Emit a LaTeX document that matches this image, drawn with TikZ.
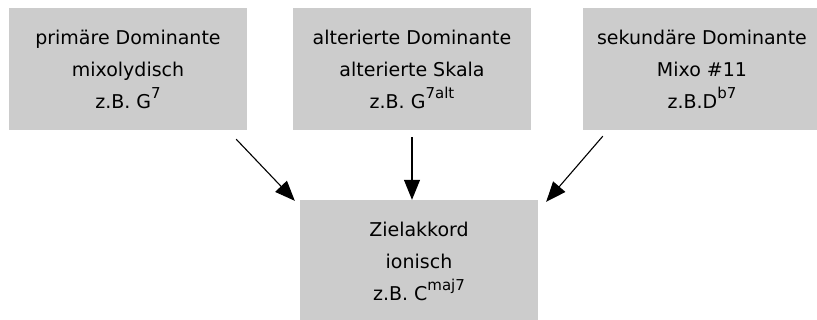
\documentclass[tikz,border=0pt]{standalone}
\usepackage{fontspec}
\setmainfont{DejaVu Sans}
\usepackage{tikz}
\usetikzlibrary{positioning,calc,arrows.meta}
\definecolor{boxgray}{rgb}{0.8, 0.8, 0.8}
\newcommand{\hoch}[1]{\raisebox{0.5em}{\fontsize{15}{15}\selectfont #1}}

\tikzset{
	box/.style={rectangle, fill=boxgray, minimum width=238pt, minimum height=122pt, align=center, inner sep=0pt, font=\fontsize{19}{32}\selectfont},
	pfeil/.style={black, line width=1.1pt, -{Triangle[length=20pt,width=16pt]}}
}

\begin{document}
\begin{tikzpicture}[x=1pt,y=1pt]
	\useasboundingbox (0,0) rectangle (817,-320);
	
	\node[box] (prim) at (128,-69) {primäre Dominante\\mixolydisch\\z.B. G\hoch{7}};
	
	\node[box] (alt) at (412,-69) {alterierte Dominante\\alterierte Skala\\z.B. G\hoch{7alt}};
	
	\node[box] (sek) at (702,-69) {sekundäre Dominante\\Mixo \#11\\z.B.D\hoch{b7}};
	
	\node[box] (ziel) at (419,-261) {Zielakkord\\ionisch\\z.B. C\hoch{maj7}};
	
	%\draw [pfeil] (prim) -- (ziel);
	\draw[pfeil] ($(prim.south east)+(-11,-9)$) -- ($(ziel.north west)+(-5,-1)$);
	
	\draw[pfeil] ($(alt.south)+(0,-7)$) -- (alt.south |- ziel.north);
	
	\draw[pfeil] ($(sek.south west)+(20,-6)$) -- ($(ziel.north east)+(8,-2)$);
\end{tikzpicture}
\end{document}
